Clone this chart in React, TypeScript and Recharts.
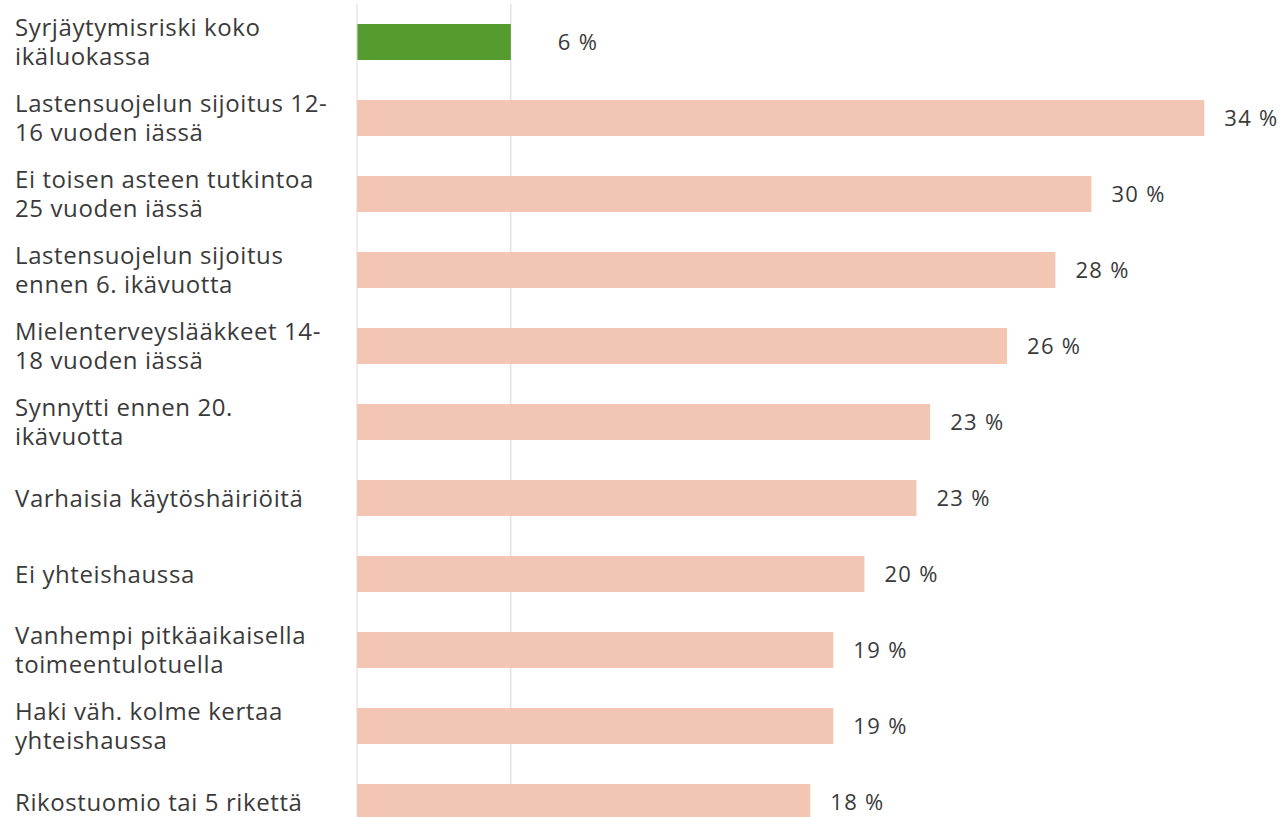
import React from 'react';
import { BarChart, Bar, XAxis, YAxis, Cell, ReferenceLine, LabelList } from 'recharts';

const categories = [
  'Syrjäytymisriski koko\nikäluokassa',
  'Lastensuojelun sijoitus 12-\n16 vuoden iässä',
  'Ei toisen asteen tutkintoa\n25 vuoden iässä',
  'Lastensuojelun sijoitus\nennen 6. ikävuotta',
  'Mielenterveyslääkkeet 14-\n18 vuoden iässä',
  'Synnytti ennen 20.\nikävuotta',
  'Varhaisia käytöshäiriöitä',
  'Ei yhteishaussa',
  'Vanhempi pitkäaikaisella\ntoimeentulotuella',
  'Haki väh. kolme kertaa\nyhteishaussa',
  'Rikostuomio tai 5 rikettä',
];

const values = [6.2, 34.15, 29.6, 28.15, 26.2, 23.1, 22.55, 20.45, 19.2, 19.2, 18.27];

const valueLabels = ['6 %', '34 %', '30 %', '28 %', '26 %', '23 %', '23 %', '20 %', '19 %', '19 %', '18 %'];

const baselineValue = values[0];

const data = categories.map((name, i) => ({ name, value: values[i], label: valueLabels[i] }));

const FONT = '"Open Sans", "Noto Sans", sans-serif';
const TEXT = '#3a3a3a';
const GREEN = '#559b2f';
const PEACH = '#f2c6b2';

const CategoryTick = (props: any) => {
  const { y, payload } = props;
  const lines = String(payload.value).split('\n');
  const n = lines.length;
  return (
    <text x={15} y={y} fill={TEXT} fontFamily={FONT} fontSize={24} letterSpacing={0.6} textAnchor="start">
      {lines.map((line, i) => (
        <tspan key={i} x={15} y={y + 8.5 + (i - (n - 1) / 2) * 29}>
          {line}
        </tspan>
      ))}
    </text>
  );
};

const ValueLabel = (props: any) => {
  const { x, y, width, height, index } = props;
  const offset = index === 0 ? 47 : 20;
  return (
    <text
      x={Number(x) + Number(width) + offset}
      y={Number(y) + Number(height) / 2 + 7.5}
      fill={TEXT}
      fontFamily={FONT}
      fontSize={22}
      letterSpacing={1.3}
      textAnchor="start"
    >
      {valueLabels[index]}
    </text>
  );
};

export default function App() {
  return (
    <div style={{ position: 'absolute', left: 0, top: 0, width: 1284, height: 817, overflow: 'hidden', background: '#fff' }}>
      <BarChart
        width={1284}
        height={842}
        data={data}
        layout="vertical"
        margin={{ top: 4, right: 9, bottom: 2, left: 0 }}
        barCategoryGap={40}
      >
        <XAxis type="number" domain={[0, 37]} hide />
        <YAxis
          type="category"
          dataKey="name"
          width={357}
          axisLine={{ stroke: '#d9d9d9', strokeWidth: 1 }}
          tickLine={false}
          tick={<CategoryTick />}
          interval={0}
        />
        <ReferenceLine x={baselineValue} stroke="#d4d4d4" strokeWidth={1} zIndex={100} />
        <Bar dataKey="value" barSize={36} isAnimationActive={false}>
          {data.map((d, i) => (
            <Cell key={i} fill={i === 0 ? GREEN : PEACH} />
          ))}
          <LabelList dataKey="label" content={<ValueLabel />} />
        </Bar>
      </BarChart>
    </div>
  );
}
